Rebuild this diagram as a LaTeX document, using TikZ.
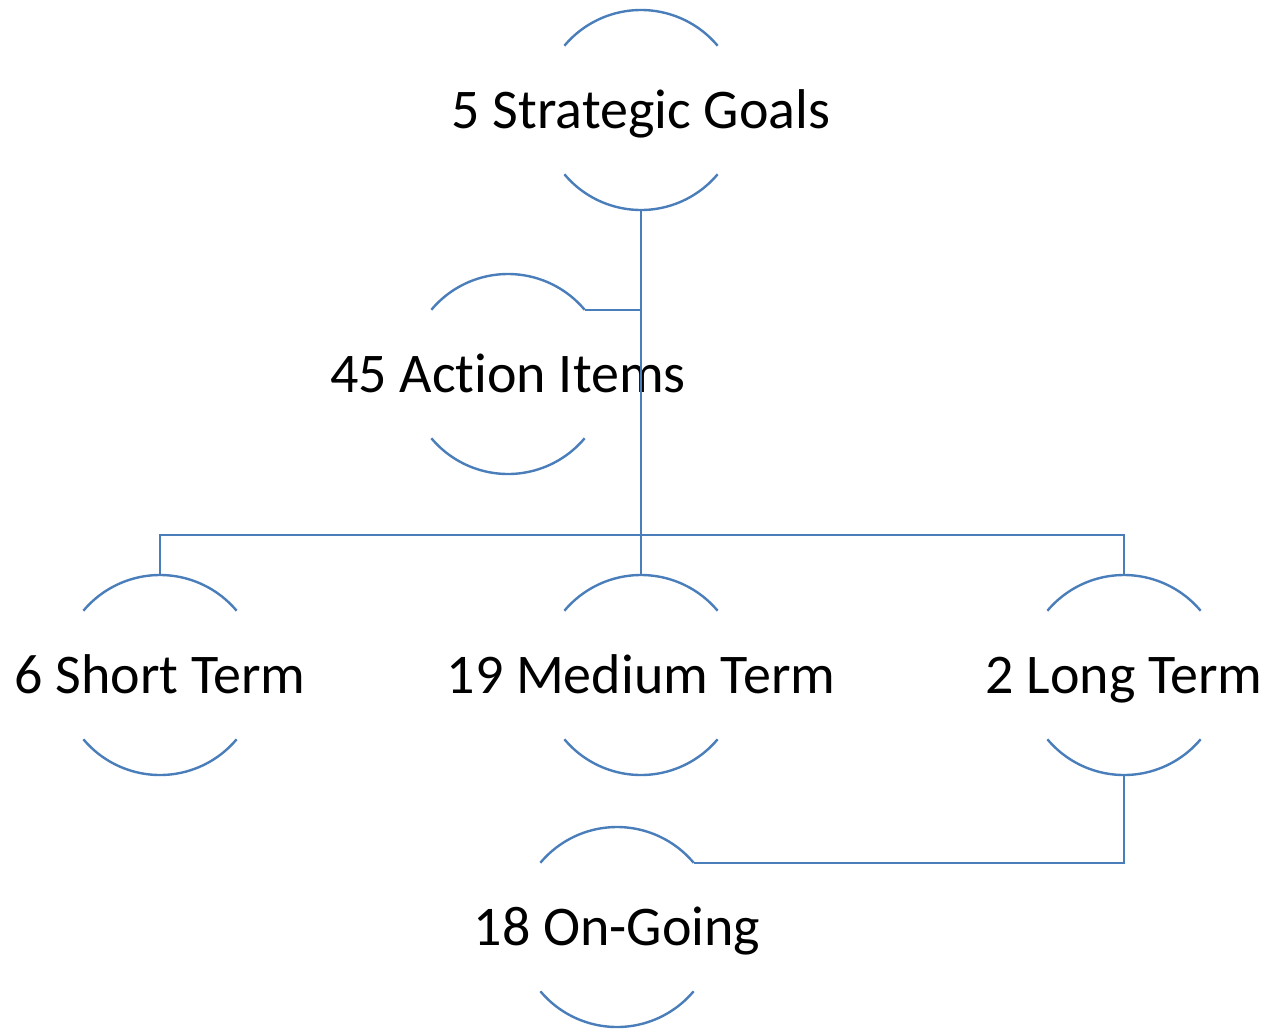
\documentclass[tikz,border=0pt]{standalone}
\usepackage{fontspec}
\setmainfont[Ligatures={NoCommon,NoContextual,NoRare}]{Carlito}
\definecolor{sa}{HTML}{4A7EBB}
\begin{document}
\begin{tikzpicture}[x=1pt,y=-1pt,
  circ/.style={circle,draw=none,minimum size=200pt,inner sep=0pt,outer sep=0pt},
  lbl/.style={font=\fontsize{56}{62}\selectfont,inner sep=0pt,text=black,anchor=base,yshift=-18pt},
  ln/.style={draw=sa,line width=2.4pt}]
\useasboundingbox (0,0) rectangle (1265,1029);
\node[circ] (g) at (641,110) {};
\node[circ] (a) at (508,374) {};
\node[circ] (s) at (160,675) {};
\node[circ] (m) at (641,675) {};
\node[circ] (l) at (1124,675) {};
\node[circ] (o) at (617,927) {};
\foreach \n in {g,a,s,m,l,o}{
  \draw[ln] (\n.40) arc[start angle=40,end angle=140,radius=100pt];
  \draw[ln] (\n.-140) arc[start angle=-140,end angle=-40,radius=100pt];
}
\node[lbl] at (g) {5 Strategic Goals};
\node[lbl] at (a) {45 Act\kern0pt ion Items};
\node[lbl] at (s) {6 Short Term};
\node[lbl] at (m) {19 Medium Term};
\node[lbl] at (l) {2 Long Term};
\node[lbl] at (o) {18 On-Going};
\coordinate (hb) at (641,535);
\draw[ln] (g.south) -- (hb);
\draw[ln] (a.40) -- (g.south |- a.40);
\draw[ln] (s.north) -- (s.north |- hb) -- (l.north |- hb) -- (l.north);
\draw[ln] (hb) -- (m.north);
\draw[ln] (l.south) -- (l.south |- o.40) -- (o.40);
\end{tikzpicture}
\end{document}
